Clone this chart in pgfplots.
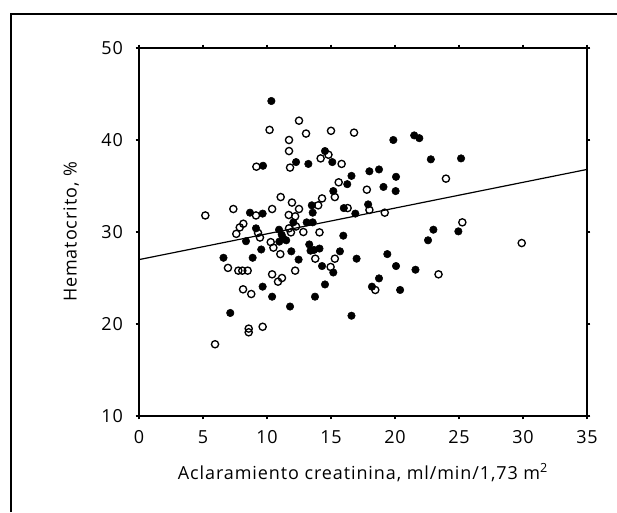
\documentclass[border=0pt]{standalone}
\usepackage{fontspec}
\setmainfont{Open Sans}[LetterSpace=5]
\usepackage{pgfplots}
\pgfplotsset{compat=1.18}

\pgfplotstableread{
x y
10.34 44.24
9.69 37.2
12.27 37.6
13.23 37.4
14.53 38.8
15.1 37.6
16.6 36.1
16.27 35.2
15.18 34.45
13.5 32.9
13.57 32.1
9.66 32.0
8.67 32.1
16.0 32.6
16.9 32.0
19.87 40.0
21.5 40.5
21.9 40.2
22.8 37.9
25.16 38.0
18.0 36.6
18.75 36.8
20.08 36.0
19.1 34.9
20.05 34.45
17.9 33.0
9.14 30.4
8.36 29.0
9.55 28.1
6.6 27.2
8.88 27.2
10.94 30.25
10.96 28.95
11.27 29.3
11.5 29.1
11.15 29.7
11.9 27.9
12.47 27.0
12.06 31.05
13.1 31.05
13.57 31.05
13.3 28.65
13.4 27.97
13.67 28.05
14.1 28.2
14.3 26.3
15.18 25.6
15.7 27.9
15.96 29.6
17.0 27.1
9.66 24.06
10.4 22.97
11.8 21.9
13.75 22.97
14.53 24.3
7.13 21.2
16.6 20.9
23.0 30.25
22.58 29.1
24.95 30.07
19.4 27.6
20.08 26.3
21.6 25.9
18.75 24.96
18.2 24.06
20.4 23.7
}\filled

\pgfplotstableread{
x y
10.2 41.1
12.5 42.1
13.05 40.7
11.72 40.0
11.72 38.8
11.8 37.0
15.0 41.0
16.8 40.8
9.17 37.1
14.19 38.0
14.8 38.4
15.83 37.4
15.6 35.4
15.3 33.8
14.3 33.65
14.0 32.9
12.5 32.5
11.95 33.2
11.07 33.8
10.4 32.5
9.14 31.8
7.37 32.5
5.18 31.8
11.7 31.85
12.2 31.7
16.3 32.6
23.98 35.8
17.8 34.6
18.0 32.4
19.2 32.1
7.6 29.8
7.87 30.5
8.15 30.9
9.3 29.9
9.45 29.4
6.95 26.1
7.76 25.8
8.07 25.8
8.49 25.8
10.29 28.9
10.5 28.3
11.04 27.6
11.72 30.4
11.87 29.96
12.27 30.6
12.2 25.8
12.84 30.0
14.1 29.96
13.77 27.1
14.97 26.2
15.3 27.1
10.4 25.4
11.17 25.0
10.86 24.6
8.13 23.77
8.77 23.26
8.57 19.5
8.57 19.1
9.66 19.7
5.94 17.8
25.26 31.05
29.9 28.8
23.4 25.4
18.46 23.7
}\hollow

\begin{document}
\begin{tikzpicture}
% page is 617 x 512 px at 0.75pt per px
\useasboundingbox (0pt,0pt) rectangle (462.75pt,384pt);
% frame around the figure (right and bottom edges fall outside)
\draw[line width=0.9pt] (8.25pt,0pt) -- (8.25pt,373.5pt) -- (462.75pt,373.5pt);
\begin{axis}[
    at={(104.25pt,72pt)}, anchor=south west,
    scale only axis,
    width=336pt, height=276pt,
    xmin=0, xmax=35, ymin=10, ymax=50,
    xtick={0,5,...,35}, ytick={10,20,...,50},
    axis line style={line width=0.8pt},
    tick align=outside,
    major tick length=2.5pt,
    tick style={line width=2.2pt, black},
    /pgf/number format/assume math mode=true,
    tick label style={font=\fontsize{13.5}{15}\selectfont},
    xticklabel style={yshift=-5pt},
    yticklabel style={xshift=-6pt},
    label style={font=\fontsize{13.5}{16}\selectfont},
    xlabel={Aclaramiento creatinina, ml/min/1,73 m\textsuperscript{2}},
    ylabel={Hematocrito, \%},
    xlabel shift=8pt,
    ylabel shift=10pt,
]
\addplot[only marks, mark=*, mark size=2.8pt, mark options={fill=black, draw=black}] table {\filled};
\addplot[only marks, mark=o, mark size=2.7pt, mark options={draw=black, line width=1pt, fill=white}] table {\hollow};
\addplot[black, line width=0.9pt] coordinates {(0,27.0) (35,36.8)};
\end{axis}
\end{tikzpicture}
\end{document}
